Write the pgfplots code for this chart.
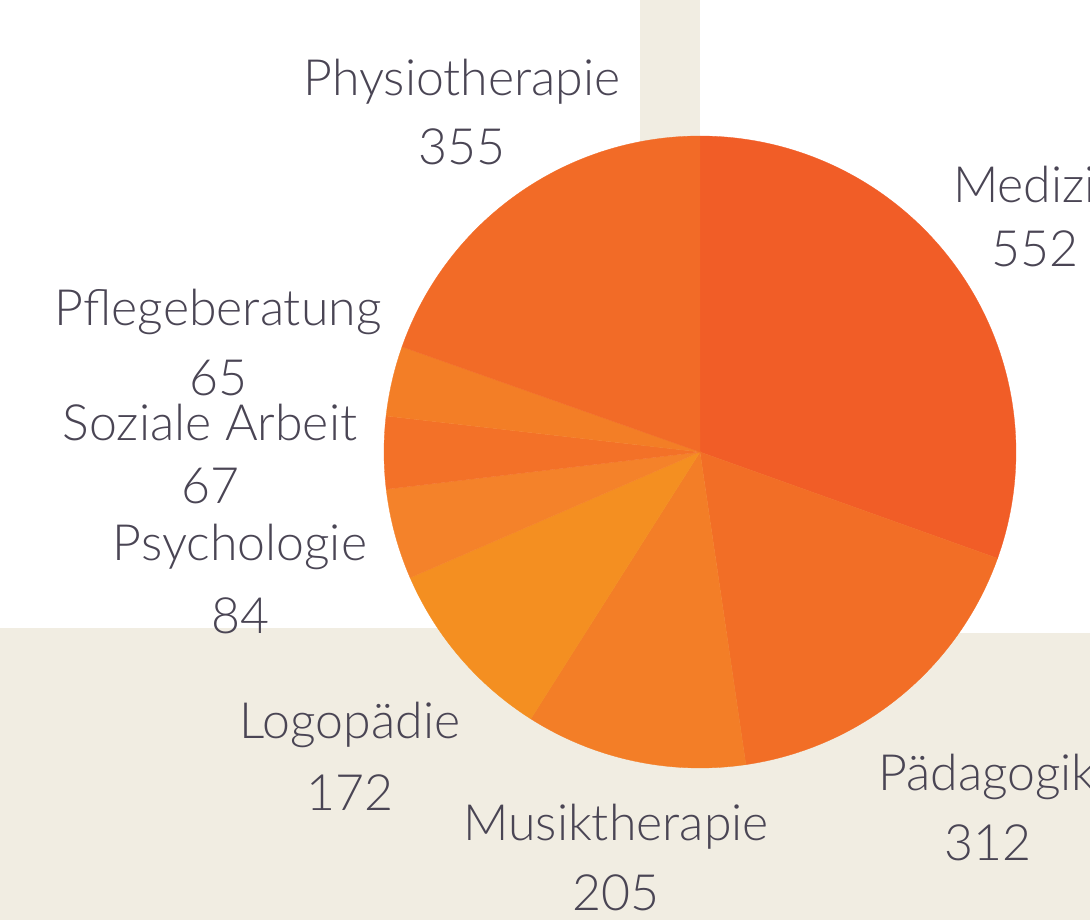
\documentclass[border=0pt]{standalone}
\usepackage{pgfplots}
\pgfplotsset{compat=1.18}
\usepackage{pgfplotstable}
\usepackage{fontspec}
\setmainfont{Lato Light}
\definecolor{bg}{HTML}{F1EDE2}
\definecolor{txt}{HTML}{4A4554}
\definecolor{cA}{HTML}{F15D27}
\definecolor{cB}{HTML}{F26E26}
\definecolor{cC}{HTML}{F37E27}
\definecolor{cD}{HTML}{F48F21}
\definecolor{cE}{HTML}{F4822A}
\definecolor{cF}{HTML}{F37128}
\definecolor{cG}{HTML}{F37E26}
\definecolor{cH}{HTML}{F26B27}
\pgfplotstableread{
name value
Medizin 552
Paedagogik 312
Musiktherapie 205
Logopaedie 172
Psychologie 84
SozialeArbeit 67
Pflegeberatung 65
Physiotherapie 355
}\piedata
\begin{document}
\begin{tikzpicture}
\pgfplotstablegetelem{0}{value}\of\piedata\let\vA\pgfplotsretval
\pgfplotstablegetelem{1}{value}\of\piedata\let\vB\pgfplotsretval
\pgfplotstablegetelem{2}{value}\of\piedata\let\vC\pgfplotsretval
\pgfplotstablegetelem{3}{value}\of\piedata\let\vD\pgfplotsretval
\pgfplotstablegetelem{4}{value}\of\piedata\let\vE\pgfplotsretval
\pgfplotstablegetelem{5}{value}\of\piedata\let\vF\pgfplotsretval
\pgfplotstablegetelem{6}{value}\of\piedata\let\vG\pgfplotsretval
\pgfplotstablegetelem{7}{value}\of\piedata\let\vH\pgfplotsretval
\pgfmathsetmacro\tot{\vA+\vB+\vC+\vD+\vE+\vF+\vG+\vH}
\pgfmathsetmacro\aA{90}
\pgfmathsetmacro\aB{\aA-360*(\vA/\tot)}
\pgfmathsetmacro\aC{\aB-360*(\vB/\tot)}
\pgfmathsetmacro\aD{\aC-360*(\vC/\tot)}
\pgfmathsetmacro\aE{\aD-360*(\vD/\tot)}
\pgfmathsetmacro\aF{\aE-360*(\vE/\tot)}
\pgfmathsetmacro\aG{\aF-360*(\vF/\tot)}
\pgfmathsetmacro\aH{\aG-360*(\vG/\tot)}
\pgfmathsetmacro\aI{\aH-360*(\vH/\tot)}
\path[use as bounding box] (0,0) rectangle (1090pt,920pt);
\clip (0,0) rectangle (1090pt,920pt);
\begin{axis}[at={(0,0)},anchor=south west,width=1090pt,height=920pt,scale only axis,
  xmin=0,xmax=1090,ymin=0,ymax=920,y dir=reverse,hide axis,clip=false]
\fill[bg] (axis cs:0,628) rectangle (axis cs:700,920);
\fill[bg] (axis cs:700,633) rectangle (axis cs:1090,920);
\fill[bg] (axis cs:640,0) rectangle (axis cs:700,452);
\def\R{316pt}
\filldraw[cA,line width=0.3pt] (axis cs:700,452) -- ++(\aA:\R) arc[start angle=\aA,end angle=\aB,radius=\R] -- cycle;
\filldraw[cB,line width=0.3pt] (axis cs:700,452) -- ++(\aB:\R) arc[start angle=\aB,end angle=\aC,radius=\R] -- cycle;
\filldraw[cC,line width=0.3pt] (axis cs:700,452) -- ++(\aC:\R) arc[start angle=\aC,end angle=\aD,radius=\R] -- cycle;
\filldraw[cD,line width=0.3pt] (axis cs:700,452) -- ++(\aD:\R) arc[start angle=\aD,end angle=\aE,radius=\R] -- cycle;
\filldraw[cE,line width=0.3pt] (axis cs:700,452) -- ++(\aE:\R) arc[start angle=\aE,end angle=\aF,radius=\R] -- cycle;
\filldraw[cF,line width=0.3pt] (axis cs:700,452) -- ++(\aF:\R) arc[start angle=\aF,end angle=\aG,radius=\R] -- cycle;
\filldraw[cG,line width=0.3pt] (axis cs:700,452) -- ++(\aG:\R) arc[start angle=\aG,end angle=\aH,radius=\R] -- cycle;
\filldraw[cH,line width=0.3pt] (axis cs:700,452) -- ++(\aH:\R) arc[start angle=\aH,end angle=\aI,radius=\R] -- cycle;
\tikzset{lab/.style={anchor=base,text=txt,font=\fontsize{50}{60}\selectfont,inner sep=0pt}}
\node[lab] at (axis cs:462,96) {Physiotherapie};
\node[lab] at (axis cs:462,165) {355};
\node[lab,anchor=base west] at (axis cs:953,203) {Medizin};
\node[lab] at (axis cs:1035,266) {552};
\node[lab] at (axis cs:218,325) {Pflegeberatung};
\node[lab] at (axis cs:218,395) {65};
\node[lab] at (axis cs:210,440) {Soziale Arbeit};
\node[lab] at (axis cs:210,503) {67};
\node[lab] at (axis cs:240,560) {Psychologie};
\node[lab] at (axis cs:240,633) {84};
\node[lab] at (axis cs:350,738) {Logopädie};
\node[lab] at (axis cs:350,810) {172};
\node[lab] at (axis cs:616,840) {Musiktherapie};
\node[lab] at (axis cs:616,910) {205};
\node[lab,anchor=base west] at (axis cs:878,790) {Pädagogik};
\node[lab] at (axis cs:988,860) {312};
\end{axis}
\end{tikzpicture}
\end{document}
